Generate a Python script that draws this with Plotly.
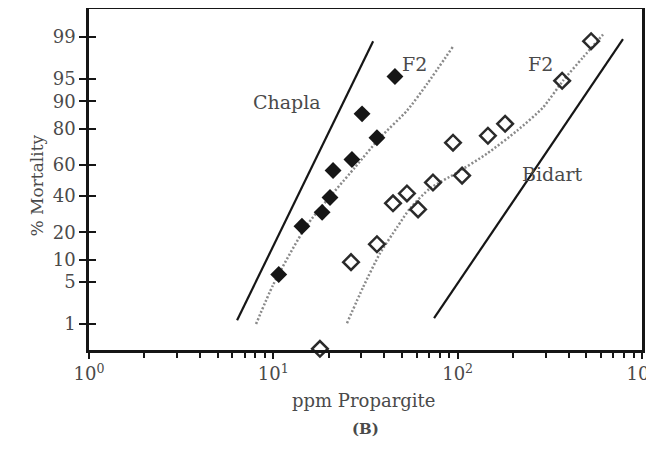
import plotly.graph_objects as go
from statistics import NormalDist

# ---------------- data ----------------
pct_ticks = [1, 5, 10, 20, 40, 60, 80, 90, 95, 99]
x_decades = [1, 10, 100, 1000]
x_decade_labels = ["10<sup>0</sup>", "10<sup>1</sup>", "10<sup>2</sup>", "10<sup>3</sup>"]

# F2 (near Chapla) observed points - filled diamonds
f2a_ppm = [10.7, 14.3, 18.4, 20.3, 21.1, 26.7, 36.5, 30.3, 45.7]
f2a_mort = [6.4, 22.9, 30.3, 39.2, 56.4, 63.3, 75.6, 86.0, 95.4]

# F2 (near Bidart) observed points - open diamonds
f2b_ppm = [17.9, 26.4, 36.5, 44.6, 53.1, 61.0, 73.5, 94.4, 105.7, 146, 181, 369, 530]
f2b_mort = [0.32, 9.3, 15.1, 35.6, 41.7, 32.0, 48.7, 73.0, 53.2, 76.6, 82.1, 94.7, 98.8]

# fitted lines
chapla_ppm = [6.36, 34.8]
chapla_mort = [1.18, 98.8]
bidart_ppm = [74.5, 789]
bidart_mort = [1.29, 98.9]

f2a_fit_ppm = [8.06, 9.96, 15.2, 27.7, 37.9, 53.1, 68.2, 94.4]
f2a_fit_mort = [1.0, 4.5, 23.4, 58.3, 75.6, 87.1, 94.1, 98.5]

f2b_fit_ppm = [25.1, 30.7, 37.9, 46.9, 55.2, 70.8, 99.3, 144.5, 210, 290, 373, 479, 615]
f2b_fit_mort = [1.04, 4.2, 11.9, 22.4, 32.6, 44.9, 55.1, 66.9, 79.0, 88.1, 94.7, 97.7, 99.1]

# ---------------- helpers ----------------
nd = NormalDist()


def probit(vals):
    return [nd.inv_cdf(v / 100.0) for v in vals]


FONT = "DejaVu Serif"
TXT = "#4a4a4a"
INK = "#161616"

fig = go.Figure()

fig.add_trace(go.Scatter(x=chapla_ppm, y=probit(chapla_mort), mode="lines",
                         line=dict(color=INK, width=2.2), showlegend=False))
fig.add_trace(go.Scatter(x=bidart_ppm, y=probit(bidart_mort), mode="lines",
                         line=dict(color=INK, width=2.2), showlegend=False))
fig.add_trace(go.Scatter(x=f2a_fit_ppm, y=probit(f2a_fit_mort), mode="lines",
                         line=dict(color="#8a8a8a", width=2.5, dash="2px,2px", shape="spline",
                                   smoothing=0.6),
                         showlegend=False))
fig.add_trace(go.Scatter(x=f2b_fit_ppm, y=probit(f2b_fit_mort), mode="lines",
                         line=dict(color="#8a8a8a", width=2.5, dash="2px,2px", shape="spline",
                                   smoothing=0.6),
                         showlegend=False))
fig.add_trace(go.Scatter(x=f2a_ppm, y=probit(f2a_mort), mode="markers",
                         marker=dict(symbol="diamond", size=13, color=INK,
                                     line=dict(width=0)),
                         showlegend=False, cliponaxis=False))
fig.add_trace(go.Scatter(x=f2b_ppm, y=probit(f2b_mort), mode="markers",
                         marker=dict(symbol="diamond-open", size=12, color="#2a2a2a",
                                     line=dict(width=2.5, color="#2a2a2a")),
                         showlegend=False, cliponaxis=False))
# invisible trace to keep the overlay axis (inner half of cross ticks) alive
fig.add_trace(go.Scatter(x=[10], y=[0], yaxis="y2", mode="markers",
                         marker=dict(opacity=0), showlegend=False, hoverinfo="skip"))

minor_vals = [k * d for d in x_decades[:-1] for k in range(2, 10)]

yr = [-2.746, 2.779]

# the page body has an 8px default margin, so the figure is 8px smaller
fig.update_layout(
    width=646, height=449,
    margin=dict(l=81, r=12, t=1, b=107, autoexpand=False),
    plot_bgcolor="white", paper_bgcolor="white",
    font=dict(family=FONT, color=TXT, size=17),
    xaxis=dict(type="log", range=[0, 3.0003], showline=True, linewidth=2.5, linecolor=INK,
               mirror=True, ticks="outside", ticklen=6, tickwidth=2, tickcolor=INK,
               tickmode="array", tickvals=x_decades, ticktext=x_decade_labels,
               ticklabeloverflow="allow", automargin=False,
               minor=dict(tickmode="array", tickvals=minor_vals, ticks="outside",
                          ticklen=5, tickwidth=2, tickcolor=INK, showgrid=False),
               tickfont=dict(family=FONT, size=18, color=TXT),
               showgrid=False, zeroline=False),
    yaxis=dict(range=yr, showline=True, linewidth=2.5, linecolor=INK, mirror=True,
               ticks="outside", ticklen=7, tickwidth=2, tickcolor=INK,
               tickmode="array", tickvals=probit(pct_ticks),
               ticktext=[str(p) for p in pct_ticks], automargin=False,
               tickfont=dict(family=FONT, size=18, color=TXT),
               showgrid=False, zeroline=False),
    yaxis2=dict(range=yr, overlaying="y", side="left", showline=False,
                ticks="inside", ticklen=7, tickwidth=2, tickcolor=INK,
                tickmode="array", tickvals=probit(pct_ticks), showticklabels=False,
                showgrid=False, zeroline=False, automargin=False),
    annotations=[
        dict(text="Chapla", x=0.358, y=0.766, xref="paper", yref="paper",
             showarrow=False, font=dict(family=FONT, size=19, color=TXT)),
        dict(text="F2", x=0.5895, y=0.877, xref="paper", yref="paper",
             showarrow=False, font=dict(family=FONT, size=19, color=TXT)),
        dict(text="F2", x=0.843, y=0.877, xref="paper", yref="paper",
             showarrow=False, font=dict(family=FONT, size=19, color=TXT)),
        dict(text="Bidart", x=0.897, y=0.5175, xref="paper", yref="paper",
             showarrow=False, font=dict(family=FONT, size=19, color=TXT)),
        dict(text="% Mortality", x=-0.116, y=0.482, xref="paper", yref="paper",
             textangle=-90, showarrow=False, font=dict(family=FONT, size=17, color=TXT)),
        dict(text="ppm Propargite", x=0.497, y=-0.184, xref="paper", yref="paper",
             showarrow=False, font=dict(family=FONT, size=18, color=TXT)),
        dict(text="<b>(B)</b>", x=0.5, y=-0.263, xref="paper", yref="paper",
             showarrow=False, font=dict(family=FONT, size=15, color=TXT)),
    ],
)

fig.write_html("out.html")
